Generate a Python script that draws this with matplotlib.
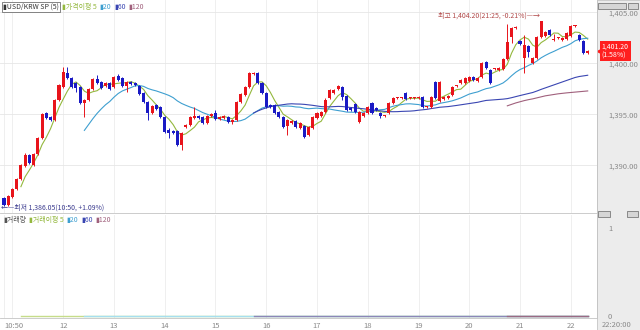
#==============================================================================#
#            USD/KRW spot, 5 minute candles, with moving averages              #
#==============================================================================#
import numpy as np
import pandas as pd
import matplotlib
matplotlib.use('Agg')
import matplotlib.pyplot as plt
import matplotlib.transforms as mtransforms
from matplotlib.patches import Rectangle

plt.rcParams['font.family'] = ['Noto Sans CJK KR', 'DejaVu Sans']

#==============================================================================#
#                      Candle values                      #
#==============================================================================#
opens = [1386.80, 1386.15, 1386.90, 1387.70, 1388.70, 1389.95, 1391.05, 1390.05, 1391.15, 1392.70,
         1395.15, 1394.75, 1394.45, 1396.40, 1397.70, 1399.05, 1398.60, 1398.10, 1397.70, 1396.15,
         1396.40, 1397.50, 1398.50, 1398.20, 1397.80, 1398.10, 1397.70, 1398.75, 1398.60, 1397.80,
         1398.20, 1398.10, 1397.80, 1397.10, 1396.20, 1395.15, 1395.95, 1395.75, 1394.75, 1393.50,
         1393.40, 1393.40, 1392.00, 1393.75, 1393.95, 1394.65, 1394.85, 1394.75, 1394.15, 1394.85,
         1395.15, 1394.55, 1394.65, 1394.75, 1394.25, 1394.45, 1396.20, 1396.90, 1397.70, 1398.95,
         1399.05, 1398.10, 1397.10, 1395.95, 1395.95, 1395.25, 1394.75, 1393.85, 1394.15, 1394.35,
         1393.70, 1393.85, 1393.00, 1393.70, 1394.65, 1394.85, 1395.25, 1396.60, 1397.10, 1397.50,
         1397.70, 1396.80, 1395.65, 1396.05, 1394.25, 1394.85, 1395.15, 1396.15, 1395.65, 1395.15,
         1394.85, 1395.15, 1396.15, 1396.60, 1396.60, 1397.10, 1396.60, 1396.60, 1396.60, 1396.70,
         1395.75, 1395.75, 1398.20, 1396.30, 1396.50, 1396.60, 1396.90, 1397.80, 1398.10, 1398.10,
         1398.30, 1398.70, 1398.30, 1398.70, 1400.15, 1399.35, 1399.45, 1399.35, 1399.45, 1400.45,
         1402.60, 1403.50, 1402.20, 1400.55, 1401.70, 1400.05, 1400.55, 1402.60, 1402.70, 1403.30,
         1402.30, 1402.50, 1402.30, 1402.40, 1402.70, 1403.70, 1402.80, 1402.20, 1401.05]

highs = [1386.90, 1387.10, 1387.80, 1388.80, 1390.15, 1391.20, 1391.15, 1391.25, 1392.80, 1395.15,
         1395.25, 1394.85, 1396.50, 1398.00, 1399.65, 1399.65, 1398.70, 1398.20, 1397.80, 1396.50,
         1397.60, 1398.60, 1398.85, 1398.30, 1398.20, 1398.20, 1398.80, 1398.95, 1398.70, 1398.30,
         1398.30, 1398.20, 1397.90, 1397.20, 1396.30, 1395.95, 1396.05, 1395.85, 1394.85, 1393.70,
         1393.50, 1393.50, 1393.30, 1394.05, 1394.85, 1395.75, 1394.95, 1394.85, 1394.95, 1395.15,
         1395.45, 1394.85, 1394.95, 1394.85, 1394.55, 1396.30, 1397.10, 1397.80, 1399.15, 1399.15,
         1399.15, 1398.20, 1397.20, 1396.05, 1396.05, 1395.35, 1394.85, 1394.55, 1394.45, 1394.45,
         1394.25, 1393.95, 1393.85, 1394.85, 1395.25, 1395.35, 1396.60, 1397.50, 1397.50, 1397.90,
         1397.80, 1396.90, 1395.75, 1396.15, 1395.35, 1395.25, 1395.85, 1396.25, 1395.75, 1395.25,
         1394.95, 1396.25, 1396.70, 1396.70, 1396.70, 1397.20, 1396.70, 1396.70, 1396.80, 1396.80,
         1395.85, 1396.80, 1398.30, 1398.30, 1396.80, 1396.90, 1397.80, 1397.90, 1398.50, 1398.70,
         1398.80, 1398.80, 1398.70, 1400.15, 1400.25, 1399.45, 1399.55, 1399.65, 1400.55, 1403.85,
         1403.60, 1403.70, 1402.30, 1402.80, 1401.80, 1400.65, 1402.70, 1404.20, 1403.20, 1403.40,
         1402.90, 1402.60, 1402.60, 1403.10, 1403.75, 1403.80, 1402.90, 1402.30, 1401.30]

lows = [1386.05, 1386.05, 1386.80, 1387.60, 1388.60, 1389.85, 1390.15, 1389.95, 1391.05, 1392.60,
        1394.55, 1394.35, 1394.35, 1396.30, 1397.60, 1398.50, 1397.60, 1397.20, 1396.05, 1394.75,
        1396.30, 1397.40, 1398.00, 1397.50, 1397.70, 1397.40, 1397.60, 1398.30, 1397.70, 1397.20,
        1397.90, 1397.80, 1396.90, 1396.10, 1394.45, 1395.05, 1395.45, 1394.65, 1393.20, 1392.70,
        1393.10, 1391.90, 1391.50, 1393.65, 1393.85, 1394.55, 1394.55, 1394.05, 1394.05, 1394.75,
        1394.45, 1394.45, 1394.55, 1394.15, 1394.05, 1394.35, 1396.10, 1396.80, 1397.60, 1398.85,
        1398.00, 1397.00, 1395.65, 1395.65, 1395.05, 1394.65, 1393.65, 1392.95, 1394.05, 1393.65,
        1393.60, 1392.70, 1392.90, 1393.60, 1394.55, 1394.75, 1395.15, 1396.50, 1397.00, 1397.40,
        1396.40, 1395.35, 1395.35, 1395.15, 1394.15, 1394.75, 1395.05, 1395.05, 1395.35, 1394.65,
        1394.75, 1395.05, 1396.05, 1396.50, 1396.50, 1396.40, 1396.50, 1396.50, 1396.50, 1395.65,
        1395.65, 1395.65, 1396.50, 1396.20, 1396.40, 1396.50, 1396.80, 1397.70, 1398.00, 1398.00,
        1398.20, 1398.30, 1398.20, 1398.60, 1399.45, 1398.00, 1399.35, 1399.25, 1399.35, 1400.35,
        1402.00, 1403.40, 1401.80, 1399.05, 1400.65, 1399.95, 1400.45, 1402.50, 1402.60, 1402.70,
        1402.20, 1402.40, 1402.20, 1402.30, 1402.60, 1403.60, 1402.20, 1400.95, 1400.95]

closes = [1386.15, 1387.00, 1387.70, 1388.70, 1390.05, 1391.05, 1390.25, 1391.15, 1392.70, 1395.05,
          1394.65, 1394.45, 1396.40, 1397.90, 1399.15, 1398.60, 1397.70, 1397.60, 1396.15, 1396.40,
          1397.50, 1398.50, 1398.10, 1397.60, 1398.10, 1397.50, 1398.70, 1398.40, 1397.80, 1398.20,
          1398.00, 1397.90, 1397.00, 1396.20, 1395.15, 1395.85, 1395.55, 1394.75, 1393.30, 1393.20,
          1393.20, 1392.00, 1393.20, 1393.95, 1394.75, 1394.85, 1394.65, 1394.15, 1394.85, 1395.05,
          1394.55, 1394.75, 1394.85, 1394.25, 1394.45, 1396.20, 1397.00, 1397.70, 1399.05, 1399.05,
          1398.10, 1397.10, 1395.75, 1395.75, 1395.15, 1394.75, 1393.75, 1394.45, 1394.35, 1393.75,
          1394.15, 1392.80, 1393.75, 1394.75, 1395.15, 1395.25, 1396.40, 1397.40, 1397.40, 1397.80,
          1396.70, 1395.45, 1395.45, 1395.25, 1395.25, 1395.15, 1395.75, 1395.15, 1395.45, 1394.85,
          1394.85, 1396.15, 1396.60, 1396.60, 1396.60, 1396.50, 1396.60, 1396.60, 1396.70, 1395.75,
          1395.75, 1396.70, 1396.60, 1398.20, 1396.70, 1396.80, 1397.70, 1397.80, 1398.40, 1398.60,
          1398.70, 1398.40, 1398.60, 1400.05, 1399.55, 1398.10, 1399.45, 1399.55, 1400.45, 1402.10,
          1403.50, 1403.60, 1401.90, 1401.80, 1401.15, 1400.55, 1402.60, 1404.15, 1403.10, 1402.80,
          1402.30, 1402.50, 1402.50, 1403.00, 1403.70, 1403.70, 1402.30, 1401.05, 1401.20]

volumes = [0] * len(closes)          # no volume for the FX spot series

price_ticks = [1390, 1395, 1400, 1405]
ma_windows = [5, 20, 60, 120]
ma_colors = ['#94b83e', '#3e9fd0', '#3a46b2', '#a0607c']
vol_ma_colors = ['#c6dc8a', '#a6dff0', '#8c86b8', '#9a6a84']

high_text = '최고 1,404.20(21:25, -0.21%)—→'
low_text = '←—최저 1,386.05(10:50, +1.09%)'
tag_text = '1,401.20\n(1.58%)'

RED = '#e8141b'
BLUE = '#1a1ac4'
W, H = 640, 330

#==============================================================================#
#                                  Layout                                      #
#==============================================================================#
fig = plt.figure(figsize=(6.4, 3.3), dpi=100)
fig.patches.append(Rectangle((597 / W, 0), 43 / W, 1, transform=fig.transFigure,
                             facecolor='#ececec', edgecolor='#c4c4c4', lw=0.6, zorder=-1))

ax = fig.add_axes([0, 1 - 213 / H, 597 / W, 213 / H])
axv = fig.add_axes([0, 12 / H, 597 / W, 103 / H], sharex=ax)

n = len(closes)
x = np.arange(1, n + 1)
o = np.array(opens); c = np.array(closes)
hi = np.array(highs); lo = np.array(lows)

times = pd.date_range('2024-01-01 10:50', periods=n, freq='5min')
hour_pos = [1] + [i + 1 for i, t in enumerate(times) if t.minute == 0]
hour_lab = ['10:50'] + ['' if t.hour == 11 else str(t.hour) for t in times if t.minute == 0]

ax.set_xlim(0.054, 141.2)
ax.set_ylim(1385.34, 1406.225)

#==============================================================================#
#                            Candles and averages                              #
#==============================================================================#
col = np.where(c >= o, RED, BLUE)
ax.vlines(x, lo, hi, colors=col, lw=0.7, zorder=3)
body = np.maximum(np.abs(c - o), 0.08)
ax.bar(x, body, bottom=np.minimum(o, c), width=0.72, color=col, linewidth=0, zorder=4)

s = pd.Series(c)
for w, mc in zip(ma_windows, ma_colors):
    ax.plot(x, s.rolling(w).mean(), color=mc, lw=0.8, zorder=2)

vs = pd.Series(volumes, dtype=float)
for w, mc in zip(ma_windows, vol_ma_colors):
    axv.plot(x, vs.rolling(w).mean(), color=mc, lw=1.0, zorder=2)
axv.bar(x, volumes, width=0.72, color='#555555')

#==============================================================================#
#                               Axes styling                                   #
#==============================================================================#
for a in (ax, axv):
    a.patch.set_alpha(0)
    for sp in ('top', 'left'):
        a.spines[sp].set_visible(False)
    for sp in ('right', 'bottom'):
        a.spines[sp].set_color('#c4c4c4')
        a.spines[sp].set_linewidth(0.6)
    a.set_xticks(hour_pos)
    a.grid(axis='x', color='#ececec', lw=0.6)
    a.yaxis.tick_right()
    a.set_axisbelow(True)

ax.set_yticks(price_ticks)
ax.set_yticklabels([f'{v:,.2f}' for v in price_ticks])
ax.grid(axis='y', color='#e6e6e6', lw=0.6)
ax.tick_params(axis='y', length=0, pad=8, labelsize=5.5, labelcolor='#8a8a8a')
ax.tick_params(axis='x', length=0, labelbottom=False)

axv.set_ylim(-0.022, 1.143)
axv.set_yticks([0, 1])
axv.set_yticklabels(['0', '1'])
axv.tick_params(axis='y', length=0, pad=8, labelsize=5.5, labelcolor='#8a8a8a')
axv.set_xticklabels(hour_lab)
axv.tick_params(axis='x', length=0, pad=3, labelsize=5.5, labelcolor='#8a8a8a')
axv.get_xticklabels()[0].set_horizontalalignment('left')

# white plotting area left of the grey price scale
fig.patches.append(Rectangle((0, 0), 597 / W, 1, transform=fig.transFigure,
                             facecolor='white', edgecolor='none', zorder=-2))

#==============================================================================#
#                          Legends and annotations                             #
#==============================================================================#
renderer = fig.canvas.get_renderer()

def legend_row(items, px, py, boxed):
    for k, (txt, tc) in enumerate(items):
        box = dict(facecolor='white', edgecolor='#555555', lw=0.5, pad=0.6) if (boxed and k == 0) else None
        t = fig.text(px / W, 1 - py / H, txt, color=tc, fontsize=5, va='center', ha='left',
                     family=['Noto Sans CJK KR', 'DejaVu Sans'], bbox=box)
        bb = t.get_window_extent(renderer)
        px = bb.x1 + 3

legend_row([('▮USD/KRW SP (5)', '#333333'), ('▮가격이평 5', ma_colors[0]),
            ('▮20', ma_colors[1]), ('▮60', ma_colors[2]), ('▮120', ma_colors[3])], 3, 7, True)
legend_row([('▮거래량', '#555555'), ('▮거래이평 5', ma_colors[0]),
            ('▮20', ma_colors[1]), ('▮60', ma_colors[2]), ('▮120', ma_colors[3])], 3, 220, False)

imax = int(np.argmax(hi))
ax.text(x[imax] - 0.3, hi[imax] + 0.45, high_text, color='#b04848', fontsize=5,
        ha='right', va='center', family=['Noto Sans CJK KR', 'DejaVu Sans'])
imin = int(np.argmin(lo))
ax.text(x[imin] - 0.6, lo[imin] - 0.15, low_text, color='#3b3b8f', fontsize=5,
        ha='left', va='center', family=['Noto Sans CJK KR', 'DejaVu Sans'])

blend = mtransforms.blended_transform_factory(ax.transAxes, ax.transData)
ax.text(1.008, c[-1], tag_text, transform=blend, color='white', fontsize=5, ha='left',
        va='center', linespacing=1.1, clip_on=False, zorder=6,
        bbox=dict(facecolor='#ff1f1f', edgecolor='none', pad=1.3))
ax.plot([1.003], [c[-1]], marker='<', ms=3, color='#ff1f1f', transform=blend, clip_on=False)

fig.text(617 / W, 1 - 325 / H, '22:20:00', fontsize=5.5, color='#8a8a8a', ha='center', va='center')
for bx, by, bw in [(598, 3, 28), (628, 3, 10), (598, 211, 12), (627, 211, 11)]:
    fig.patches.append(Rectangle((bx / W, 1 - (by + 6) / H), bw / W, 6 / H, transform=fig.transFigure,
                                 facecolor='#d6d6d6', edgecolor='#666666', lw=0.5, zorder=5))

plt.savefig('out.png', dpi=100)
plt.close()
